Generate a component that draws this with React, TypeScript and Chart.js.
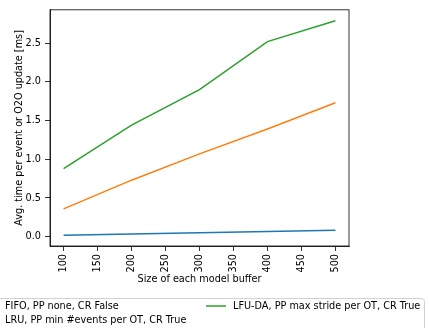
import React, { useEffect, useRef } from "react";
import { Chart, registerables } from "chart.js";

Chart.register(...registerables);

const bufferSizes = [100, 200, 300, 400, 500];
const fifoValues = [0.02, 0.035, 0.052, 0.068, 0.085];
const lruValues = [0.36, 0.73, 1.07, 1.39, 1.73];
const lfuValues = [0.88, 1.44, 1.9, 2.52, 2.79];
const seriesLabels = [
  "FIFO, PP none, CR False",
  "LRU, PP min #events per OT, CR True",
  "LFU-DA, PP max stride per OT, CR True",
];
const seriesColors = ["#1f77b4", "#ff7f0e", "#2ca02c"];
const xTicks = [100, 150, 200, 250, 300, 350, 400, 450, 500];
const yTicks = [0, 0.5, 1.0, 1.5, 2.0, 2.5];

const FONT = "DejaVu Sans";
const FS = 9.7;

const framePlugin = {
  id: "frame",
  afterDatasetsDraw(chart: any) {
    const { ctx, chartArea } = chart;
    ctx.save();
    ctx.strokeStyle = "#000";
    ctx.lineWidth = 0.8;
    ctx.strokeRect(
      chartArea.left,
      chartArea.top,
      chartArea.right - chartArea.left,
      chartArea.bottom - chartArea.top
    );
    ctx.restore();
  },
};

const legendPlugin = {
  id: "mplLegend",
  afterDraw(chart: any) {
    const { ctx } = chart;
    ctx.save();
    ctx.beginPath();
    (ctx as any).roundRect(-30.5, 298.5, 455, 44, 3);
    ctx.fillStyle = "rgba(255,255,255,0.8)";
    ctx.fill();
    ctx.strokeStyle = "rgba(204,204,204,0.9)";
    ctx.lineWidth = 1;
    ctx.stroke();
    const entries = [
      { x: 5, y: 306 },
      { x: 5, y: 320 },
      { x: 233, y: 306 },
    ];
    ctx.font = `${FS}px "${FONT}"`;
    ctx.textBaseline = "middle";
    ctx.textAlign = "left";
    entries.forEach((e, i) => {
      ctx.strokeStyle = seriesColors[i];
      ctx.lineWidth = 1.5;
      ctx.beginPath();
      ctx.moveTo(e.x - 27, e.y);
      ctx.lineTo(e.x - 7, e.y);
      ctx.stroke();
      ctx.fillStyle = "#000";
      ctx.fillText(seriesLabels[i], e.x, e.y);
    });
    ctx.restore();
  },
};

export default function App() {
  const ref = useRef<HTMLCanvasElement>(null);
  useEffect(() => {
    if (!ref.current) return;
    const values = [fifoValues, lruValues, lfuValues];
    const chart = new Chart(ref.current, {
      type: "line",
      data: {
        datasets: values.map((vals, i) => ({
          label: seriesLabels[i],
          data: bufferSizes.map((x, j) => ({ x, y: vals[j] })),
          borderColor: seriesColors[i],
          backgroundColor: seriesColors[i],
          borderWidth: 1.5,
          pointRadius: 0,
          tension: 0,
          fill: false,
        })),
      },
      options: {
        animation: false,
        responsive: false,
        layout: { padding: { top: 7, right: 80, bottom: 40, left: 0 } },
        plugins: { legend: { display: false }, tooltip: { enabled: false } },
        scales: {
          x: {
            type: "linear",
            min: 80,
            max: 520,
            afterFit(scale: any) {
              scale.height = 42;
            },
            afterBuildTicks(scale: any) {
              scale.ticks = xTicks.map((v) => ({ value: v }));
            },
            ticks: {
              minRotation: 90,
              maxRotation: 90,
              padding: 3,
              color: "#000",
              font: { family: FONT, size: FS },
              callback: (v: any) => String(v),
            },
            grid: {
              display: true,
              drawOnChartArea: false,
              drawTicks: true,
              tickLength: 5,
              color: "#000",
              lineWidth: 0.8,
            },
            border: { display: true, color: "#000", width: 0.8 },
            title: {
              display: true,
              text: "Size of each model buffer",
              color: "#000",
              font: { family: FONT, size: FS },
              padding: { top: 4, bottom: 2.5 },
            },
          },
          y: {
            type: "linear",
            min: -0.12,
            max: 2.93,
            afterFit(scale: any) {
              scale.width = 50;
            },
            afterBuildTicks(scale: any) {
              scale.ticks = yTicks.map((v) => ({ value: v }));
            },
            ticks: {
              padding: 4,
              color: "#000",
              font: { family: FONT, size: FS },
              callback: (v: any) => Number(v).toFixed(1),
            },
            grid: {
              display: true,
              drawOnChartArea: false,
              drawTicks: true,
              tickLength: 5,
              color: "#000",
              lineWidth: 0.8,
            },
            border: { display: true, color: "#000", width: 0.8 },
            title: {
              display: true,
              text: "Avg. time per event or O2O update [ms]",
              color: "#000",
              font: { family: FONT, size: FS },
              padding: { top: 14, bottom: 0 },
            },
          },
        },
      },
      plugins: [framePlugin, legendPlugin],
    });
    return () => chart.destroy();
  }, []);
  return (
    <div style={{ position: "absolute", left: 0, top: 0, width: 429, height: 328, background: "#fff" }}>
      <canvas ref={ref} width={429} height={328} style={{ display: "block" }} />
    </div>
  );
}
